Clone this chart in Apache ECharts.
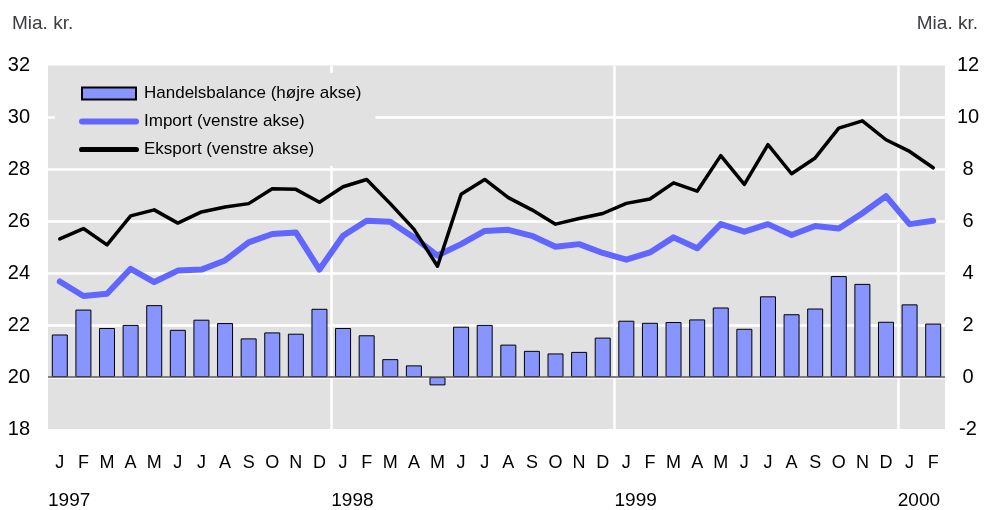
<!DOCTYPE html>
<html>
<head>
<meta charset="utf-8">
<script src="https://cdn.jsdelivr.net/npm/echarts@6/dist/echarts.min.js"></script>
<style>
html, body { margin: 0; padding: 0; background: #fff; }
#chart { width: 988px; height: 510px; }
</style>
</head>
<body>
<div id="chart"></div>
<script>
// månedsdata jan 1997 - feb 2000
var months = ['J','F','M','A','M','J','J','A','S','O','N','D',
              'J','F','M','A','M','J','J','A','S','O','N','D',
              'J','F','M','A','M','J','J','A','S','O','N','D',
              'J','F'];
var years = ['1997', '1998', '1999', '2000'];
var leftTicks = [18, 32, 2];   // min, max, step
var rightTicks = [-2, 12, 2];

var handelsbalance = [1.64, 2.60, 1.89, 2.01, 2.77, 1.82, 2.21, 2.08, 1.49, 1.72, 1.67, 2.63,
                      1.89, 1.61, 0.69, 0.45, -0.32, 1.94, 2.01, 1.25, 1.01, 0.91, 0.97, 1.52,
                      2.17, 2.09, 2.12, 2.22, 2.68, 1.86, 3.11, 2.42, 2.64, 3.89, 3.59, 2.13,
                      2.80, 2.06];
var importData = [23.68, 23.12, 23.21, 24.17, 23.66, 24.10, 24.14, 24.49, 25.19, 25.51, 25.57, 24.14,
                  25.44, 26.02, 25.98, 25.38, 24.68, 25.12, 25.63, 25.67, 25.44, 25.02, 25.12, 24.78,
                  24.52, 24.80, 25.38, 24.96, 25.89, 25.60, 25.89, 25.47, 25.82, 25.72, 26.31, 26.97,
                  25.89, 26.02];
var eksport = [25.32, 25.72, 25.09, 26.21, 26.44, 25.93, 26.36, 26.55, 26.68, 27.25, 27.23, 26.73,
               27.33, 27.61, 26.68, 25.70, 24.27, 27.04, 27.61, 26.91, 26.44, 25.89, 26.11, 26.30,
               26.69, 26.86, 27.48, 27.16, 28.53, 27.42, 28.95, 27.83, 28.44, 29.59, 29.87, 29.14,
               28.69, 28.06];

var font = '"Liberation Sans", Arial, sans-serif';
var bg = '#e1e1e1';
var importColor = '#6066ff';

var chart = echarts.init(document.getElementById('chart'));
chart.setOption({
	animation: false,
	textStyle: { fontFamily: font, color: '#000' },
	title: [
		{ text: 'Mia. kr.', left: 7, top: 9, textStyle: { fontSize: 19, fontWeight: 'normal', fontFamily: font } },
		{ text: 'Mia. kr.', right: 5, top: 9, textStyle: { fontSize: 19, fontWeight: 'normal', fontFamily: font } }
	],
	grid: {
		left: 48, right: 43, top: 65.5, bottom: 79,
		show: true, backgroundColor: bg, borderWidth: 0
	},
	legend: {
		orient: 'vertical',
		left: 55, top: 73,
		padding: [12, 14, 8, 24],
		backgroundColor: bg,
		itemWidth: 60, itemHeight: 12, itemGap: 11,
		textStyle: { fontSize: 17, fontFamily: font, color: '#000' },
		data: [
			{ name: 'Handelsbalance (højre akse)', icon: 'path://M0,0 L54,0 L54,12 L0,12 Z' },
			{ name: 'Import (venstre akse)', icon: 'path://M3,0 L57,0 A3,3 0 0 1 57,6 L3,6 A3,3 0 0 1 3,0 Z', itemStyle: { borderWidth: 0 } },
			{ name: 'Eksport (venstre akse)', icon: 'path://M2.5,0 L55.5,0 A2.5,2.5 0 0 1 55.5,5 L2.5,5 A2.5,2.5 0 0 1 2.5,0 Z', itemStyle: { borderWidth: 0 } }
		]
	},
	xAxis: [
		{
			type: 'category',
			data: months,
			axisLine: { show: false },
			axisTick: { show: false },
			axisLabel: { fontSize: 18, margin: 25, interval: 0, color: '#000' },
			splitLine: { show: false }
		},
		{
			type: 'value',
			min: 0, max: 38, interval: 12,
			position: 'bottom',
			axisLine: { show: false },
			axisTick: { show: false },
			axisLabel: {
				fontSize: 19, margin: 62, align: 'left', color: '#000', showMaxLabel: false,
				formatter: function (v) { return years[v / 12] || ''; }
			},
			splitLine: { show: true, showMinLine: false, showMaxLine: false, lineStyle: { color: '#fff', width: 2.5 } }
		}
	],
	yAxis: [
		{
			type: 'value',
			min: leftTicks[0], max: leftTicks[1], interval: leftTicks[2],
			axisLine: { show: false },
			axisTick: { show: false },
			axisLabel: { fontSize: 20, margin: 18, color: '#000' },
			splitLine: { show: true, showMinLine: false, showMaxLine: false, lineStyle: { color: '#fff', width: 2.5 } }
		},
		{
			type: 'value',
			min: rightTicks[0], max: rightTicks[1], interval: rightTicks[2],
			axisLine: { show: false },
			axisTick: { show: false },
			axisLabel: { fontSize: 20, margin: 23, align: 'center', color: '#000' },
			splitLine: { show: false }
		}
	],
	series: [
		{
			name: 'Handelsbalance (højre akse)',
			type: 'bar',
			yAxisIndex: 1,
			barWidth: 16,
			itemStyle: { color: '#8895ff', borderColor: '#000', borderWidth: 1 },
			data: handelsbalance,
			markLine: {
				silent: true,
				symbol: 'none',
				label: { show: false },
				lineStyle: { color: '#555', type: 'solid', width: 1.5 },
				data: [{ yAxis: 0 }]
			}
		},
		{
			name: 'Import (venstre akse)',
			type: 'line',
			symbol: 'none',
			lineStyle: { color: importColor, width: 6, cap: 'round', join: 'round' },
			itemStyle: { color: importColor },
			data: importData
		},
		{
			name: 'Eksport (venstre akse)',
			type: 'line',
			symbol: 'none',
			lineStyle: { color: '#000', width: 3.5, cap: 'round', join: 'round' },
			itemStyle: { color: '#000' },
			data: eksport
		}
	]
});
</script>
</body>
</html>
